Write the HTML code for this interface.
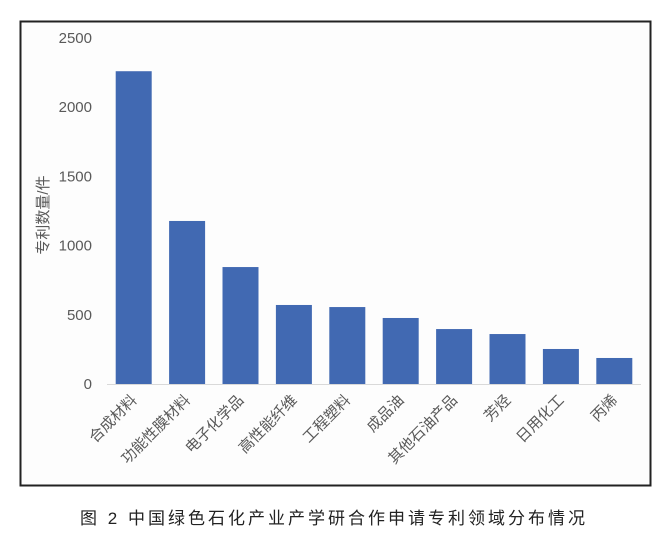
<!DOCTYPE html>
<html><head><meta charset="utf-8"><style>
body{margin:0;background:#fff;width:664px;height:543px;overflow:hidden}
svg text{font-family:"Liberation Sans","Noto Sans CJK SC",sans-serif}
</style></head><body>
<svg id="c" width="664" height="543">
<rect x="20.5" y="21.5" width="630" height="464" fill="#fdfdfd" stroke="#222" stroke-width="2"/>
<g id="g"></g>
<text x="48" y="215" transform="rotate(-90 48 215)" text-anchor="middle" font-size="15" fill="#595959">专利数量/件</text>
<text x="334" y="524" text-anchor="middle" font-size="17" letter-spacing="3" fill="#222">图 2 中国绿色石化产业产学研合作申请专利领域分布情况</text>
</svg>
<script>
const categories=["合成材料","功能性膜材料","电子化学品","高性能纤维","工程塑料","成品油","其他石油产品","芳烃","日用化工","丙烯"];
const values=[2260,1178,845,571,556,477,397,361,253,188];
const ticks=[0,500,1000,1500,2000,2500];
const NS="http://www.w3.org/2000/svg",g=document.getElementById('g');
const y0=384,yTop=38,max=2500,x0=107,step=53.4,bw=36;
const yS=v=>y0-(v/max)*(y0-yTop);
const xS=i=>x0+step*i+step/2;
function mk(t,a){const e=document.createElementNS(NS,t);for(const k in a)e.setAttribute(k,a[k]);g.appendChild(e);return e;}
ticks.forEach(t=>{const e=mk('text',{x:92,y:yS(t)+5,'text-anchor':'end','font-size':15,fill:'#595959'});e.textContent=t;

});
values.forEach((v,i)=>{const r=mk('rect',{x:xS(i)-bw/2,y:yS(v),width:bw,height:y0-yS(v),fill:'#4169b2'});


const cx=xS(i)+4,cy=401;
const t=mk('text',{x:cx,y:cy,'text-anchor':'end','font-size':15,fill:'#595959',transform:`rotate(-45 ${cx} ${cy})`});t.textContent=categories[i];

});
const ax=mk('line',{x1:x0,x2:x0+step*10,y1:y0+0.5,y2:y0+0.5,stroke:'#d9d9d9','stroke-width':1});


</script>
</body></html>
